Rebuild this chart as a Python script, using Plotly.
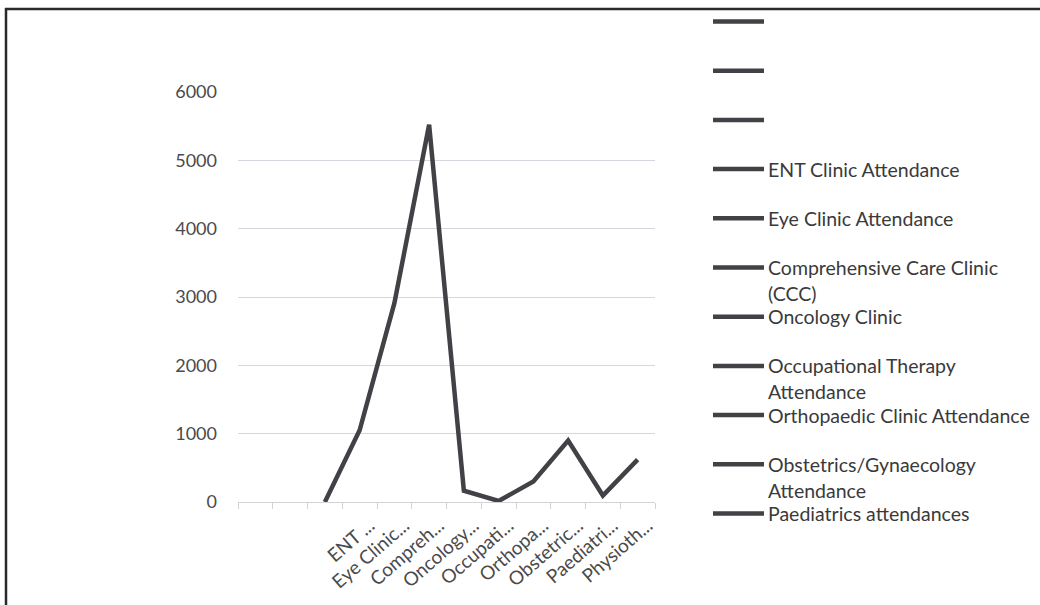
import plotly.graph_objects as go

# Category slots along the x axis (first three are unlabeled)
tick_labels = ["", "", "", "ENT ...", "Eye Clinic...", "Compreh...", "Oncology...",
               "Occupati...", "Orthopa...", "Obstetric...", "Paediatri...", "Physioth..."]
attendance = [None, None, 0, 1050, 2910, 5520, 165, 15, 300, 900, 95, 620]

legend_names = ["", "", "",
                "ENT Clinic Attendance",
                "Eye Clinic Attendance",
                "Comprehensive Care Clinic<br>(CCC)",
                "Oncology Clinic",
                "Occupational Therapy<br>Attendance",
                "Orthopaedic Clinic Attendance",
                "Obstetrics/Gynaecology<br>Attendance",
                "Paediatrics attendances"]

y_ticks = [0, 1000, 2000, 3000, 4000, 5000, 6000]

W, H = 1040, 605
L, R, T, B = 238, 655, 92, 502  # plot area in pixels
FONT = "Lato"
LINE_COLOR = "#414146"


def px(x):
    return (x - L) / (R - L)


def py(y):
    return (B - y) / (B - T)


x_idx = list(range(len(tick_labels)))

fig = go.Figure()
fig.add_trace(go.Scatter(
    x=x_idx, y=attendance, mode="lines",
    line=dict(color=LINE_COLOR, width=4.5),
    connectgaps=False, showlegend=False, hoverinfo="skip",
))

shapes = []
annotations = []

# outer chart frame (top and left edges)
shapes.append(dict(type="line", xref="paper", yref="paper",
                   x0=px(5), x1=px(W + 5), y0=py(9), y1=py(9),
                   line=dict(color="#2a2a2e", width=2.5)))
shapes.append(dict(type="line", xref="paper", yref="paper",
                   x0=px(6), x1=px(6), y0=py(8), y1=py(H + 5),
                   line=dict(color="#2a2a2e", width=2.5)))

# legend drawn as line swatches with labels
y0_leg, step = 21.5, 49.2
for i, name in enumerate(legend_names):
    yc = y0_leg + step * i
    shapes.append(dict(type="line", xref="paper", yref="paper",
                       x0=px(713), x1=px(764), y0=py(yc), y1=py(yc),
                       line=dict(color=LINE_COLOR, width=4.5)))
    for k, part in enumerate(name.split("<br>")):
        if not part:
            continue
        annotations.append(dict(
            xref="paper", yref="paper", x=px(766), y=py(yc + 26 * k),
            xanchor="left", yanchor="middle", text=part, showarrow=False,
            font=dict(family=FONT, size=19.5, color="#3a3a3a"),
        ))

fig.update_layout(
    width=W, height=H,
    margin=dict(l=L, r=W - R, t=T, b=H - B),
    paper_bgcolor="white", plot_bgcolor="white",
    shapes=shapes, annotations=annotations,
    xaxis=dict(
        range=[-0.5, len(tick_labels) - 0.5],
        tickmode="array", tickvals=x_idx, ticktext=tick_labels,
        tickangle=-41, ticks="", showgrid=False, zeroline=False,
        showline=True, linecolor="#d4d4d8", linewidth=1.2,
        tickfont=dict(family=FONT, size=19, color="#4a4a4a"),
        ticklabelshift=10, ticklabelstandoff=4,
        minor=dict(tickmode="array",
                   tickvals=[v - 0.5 for v in range(len(tick_labels) + 1)],
                   ticks="outside", ticklen=6, tickcolor="#d4d4d8", tickwidth=1.2,
                   showgrid=False),
    ),
    yaxis=dict(
        range=[0, 6000], tickmode="array", tickvals=y_ticks,
        ticktext=[str(v) for v in y_ticks],
        showgrid=True, gridcolor="#d6d6de", gridwidth=1.2, zeroline=False,
        showline=False, ticks="", ticklabelstandoff=20,
        tickfont=dict(family=FONT, size=18, color="#4a4a4a"),
    ),
    showlegend=False,
)

fig.write_html("out.html")
